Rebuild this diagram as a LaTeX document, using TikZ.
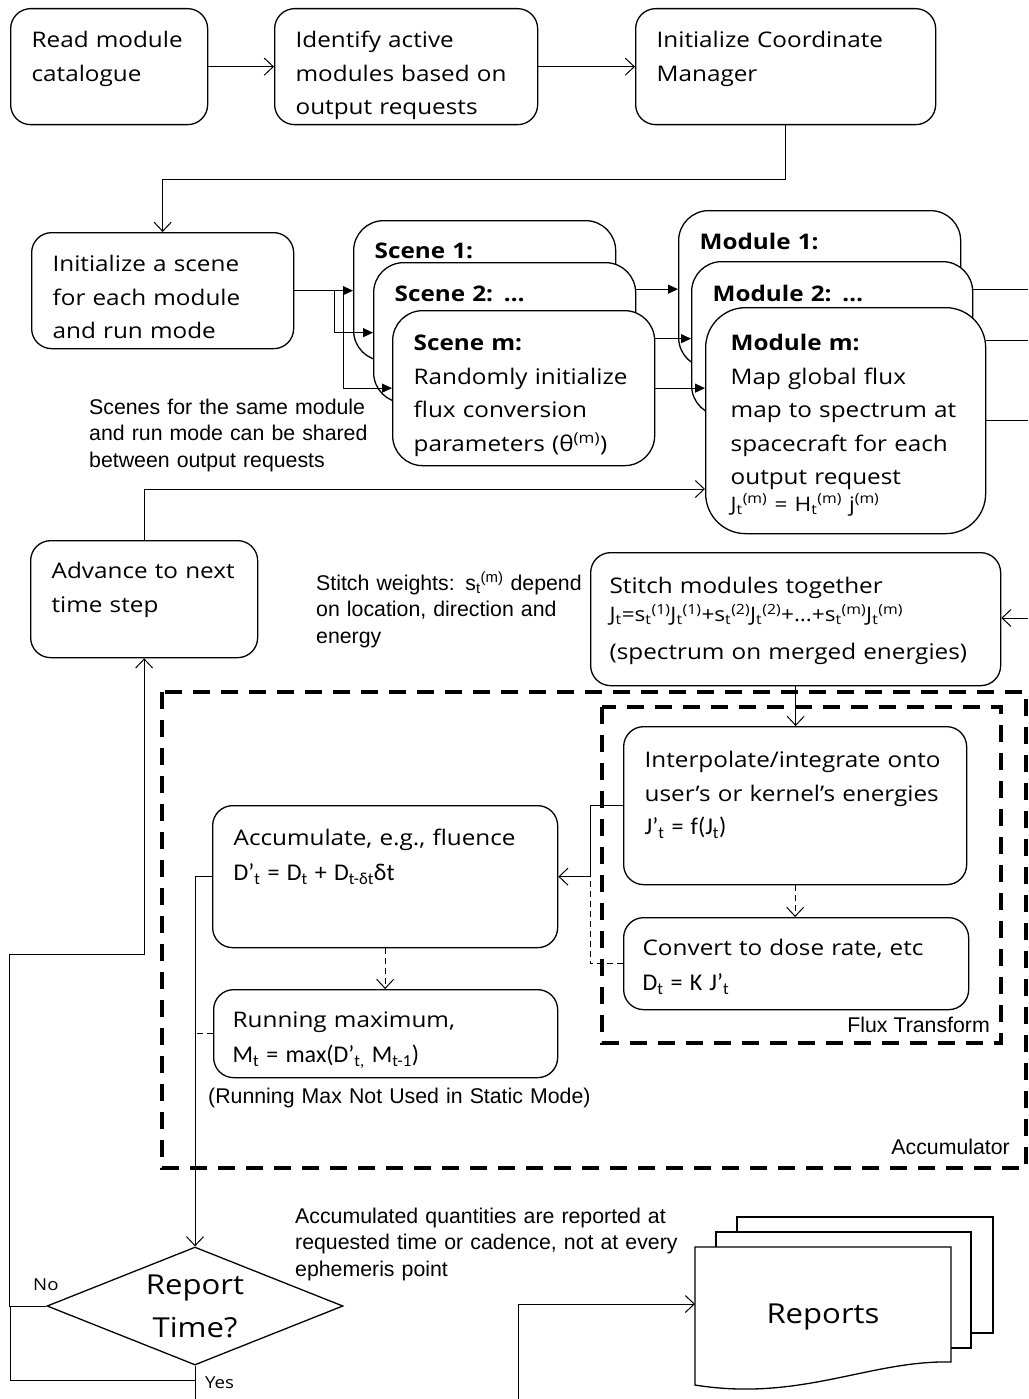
\documentclass[tikz,border=0pt]{standalone}
\usepackage{fontspec}
\setmainfont{Open Sans}[FakeStretch=1.13]
\newfontfamily\arialfont{Liberation Sans}
\newfontfamily\calfont{Carlito}
\usetikzlibrary{arrows.meta,shapes.geometric,positioning}

\newcommand{\boxfont}{\fontsize{21.5}{33.5}\selectfont}
\newcommand{\notefont}{\arialfont\fontsize{21.3}{26.5}\selectfont}
\newcommand{\eqfont}{\calfont\fontsize{24}{33.5}\selectfont}
\newcommand{\subsup}[2]{\textsubscript{#1}\textsuperscript{#2}}

\begin{document}
\begin{tikzpicture}[x=1pt, y=-1pt,
    box/.style={draw, line width=1.3pt, rounded corners=20pt, fill=white, anchor=north west,
        inner xsep=21pt, inner ysep=8pt, align=left, font=\boxfont},
    sz/.style n args={3}{text width=#1pt, text height=#2pt, text depth=#3pt},
    note/.style={anchor=base west, inner sep=0pt, align=left, font=\notefont},
    arr/.style={line width=1pt, -{Straight Barb[length=9pt,width=17pt]}},
    tri/.style={line width=1pt, -{Triangle[length=10pt,width=9pt]}},
    dsh/.style={line width=1pt, dash pattern=on 6pt off 4pt},
    grp/.style={line width=4pt, dash pattern=on 17pt off 11pt}]
    \useasboundingbox (0,0) rectangle (1028,1399);

    % top row
    \node[box, sz={155}{31}{69}] (read) at (10,8) {Read module\\catalogue};
    \node[box, sz={221}{31}{69}] (ident) at (274,8) {Identify active\\modules based on\\output requests};
    \node[box, sz={258}{31}{69}] (coord) at (635,8) {Initialize Coordinate\\Manager};
    \node[box, sz={220}{31}{69}] (init) at (31,232) {Initialize a scene\\for each module\\and run mode};

    % scenes and modules, stacked
    \node[box, rounded corners=30pt, sz={220}{30}{94}] (scene1) at (353,220) {\textbf{Scene 1:}};
    \node[box, rounded corners=30pt, sz={220}{31}{93}] (scene2) at (373,262) {\textbf{Scene 2: …}};
    \node[box, rounded corners=30pt, sz={220}{32}{107}] (scenem) at (392,310)
        {\textbf{Scene m:}\\Randomly initialize\\flux conversion\\parameters (θ\textsuperscript{(m)})};
    \node[box, rounded corners=30pt, sz={240}{31}{110}] (mod1) at (678,210) {\textbf{Module 1:}};
    \node[box, rounded corners=30pt, sz={239}{32}{106}] (mod2) at (691,261) {\textbf{Module 2: …}};
    \node[box, rounded corners=40pt, inner xsep=25pt, sz={230}{35}{175}] (modm) at (705,307)
        {\textbf{Module m:}\\Map global flux\\map to spectrum at\\spacecraft for each\\output request\\[-7pt]
         {\fontsize{20}{22}\selectfont J\subsup{t}{(m)} = H\subsup{t}{(m)} j\textsuperscript{(m)}}};

    \node[box, sz={185}{30}{71}] (adv) at (30,540) {Advance to next\\time step};
    \node[box, inner xsep=19pt, sz={372}{33}{84}] (stitch) at (590,552)
        {Stitch modules together\\[-5.5pt]
         {\fontsize{20}{22}\selectfont J\textsubscript{t}=s\subsup{t}{(1)}J\subsup{t}{(1)}+s\subsup{t}{(2)}J\subsup{t}{(2)}+…+s\subsup{t}{(m)}J\subsup{t}{(m)}}\\[4.5pt]
         (spectrum on merged energies)};

    % flux transform and accumulator
    \node[box, sz={301}{33}{109}] (interp) at (623,726)
        {Interpolate/integrate onto\\user’s or kernel’s energies\\{\eqfont J’\textsubscript{t} = f(J\textsubscript{t})}};
    \node[box, inner xsep=19pt, sz={307}{30}{46}] (conv) at (623,917)
        {Convert to dose rate, etc\\[1.5pt]{\eqfont D\textsubscript{t} = K J’\textsubscript{t}}};
    \node[box, sz={303}{32}{94}] (accum) at (212,805)
        {Accumulate, e.g., fluence\\[1.5pt]{\eqfont D’\textsubscript{t} = D\textsubscript{t} + D\textsubscript{t-δt}δt}};
    \node[box, inner xsep=19pt, sz={306}{30}{42}] (run) at (213,989)
        {Running maximum,\\[1.5pt]{\eqfont M\textsubscript{t} = max(D’\textsubscript{t,} M\textsubscript{t-1})}};

    \draw[grp] (162,692) rectangle (1026,1168);
    \draw[grp] (602,707) rectangle (1001,1043);

    % decision and reports
    \node[draw, diamond, line width=1.3pt, minimum width=296pt, minimum height=118pt, inner sep=0pt] (dec) at (195,1306) {};
    \node[align=center, font=\fontsize{27.5}{43}\selectfont] (dectxt) at (dec.center) {Report\\Time?};

    \draw[line width=1.3pt, fill=white] (737,1217) rectangle (993,1333);
    \draw[line width=1.3pt, fill=white] (716,1232) rectangle (971,1348);
    \draw[line width=1.3pt, fill=white] (695,1247) -- (951,1247) -- (951,1362)
        .. controls (870,1360) and (800,1402) .. (695,1385) -- cycle;
    \node[font=\fontsize{27.5}{36}\selectfont] (rep) at (823,1317) {Reports};

    % notes
    \node[note, text width=300pt] (sharednote) at (89,414) {Scenes for the same module\\and run mode can be shared\\between output requests};
    \node[note, text width=270pt] (stitchnote) at (316,590) {Stitch weights: s\subsup{t}{(m)} depend\\on location, direction and\\energy};
    \node[note, text width=420pt] (runnote) at (208,1103) {(Running Max Not Used in Static Mode)};
    \node[note, text width=420pt] (repnote) at (295,1223) {Accumulated quantities are reported at\\requested time or cadence, not at every\\ephemeris point};
    \node[note, anchor=base east] (acclbl) at (1010,1154) {Accumulator};
    \node[note, anchor=base east] (fluxlbl) at (990,1032) {Flux Transform};
    \node[anchor=base west, inner sep=0pt, font=\fontsize{16.5}{22}\selectfont] (nolbl) at (33,1290) {No};
    \node[anchor=base west, inner sep=0pt, font=\fontsize{16.5}{22}\selectfont] (yeslbl) at (205,1388) {Yes};

    % connectors
    \coordinate (r1) at (1028,289);
    \coordinate (r2) at (1028,340);
    \coordinate (r3) at (1028,420);
    \coordinate (r4) at (1028,618);
    \coordinate (repin) at (695,1304);
    \coordinate (repfrom) at (518,1399);

    \draw[arr] (read) -- (ident);
    \draw[arr] (ident) -- (coord);
    \draw[arr] (coord.south) -- ++(0,54) -| (init.north);
    \draw[tri] (init.east) -- (init.east -| scene1.west);
    \draw[tri] ([xshift=40pt]init.east) |- (scene2.west);
    \draw[tri] ([xshift=49pt]init.east) |- (scenem.west);
    \draw[tri] (scene2.east |- mod1.west) -- (mod1.west);
    \draw[tri] (scenem.east |- mod2.west) -- (mod2.west);
    \draw[tri] (scenem.east) -- (scenem.east -| modm.west);
    \draw[line width=1pt] (mod2.east |- r1) -- (r1);
    \draw[line width=1pt] (modm.east |- r2) -- (r2);
    \draw[line width=1pt] (modm.east |- r3) -- (r3);
    \draw[arr] (r4) -- (stitch.east |- r4);
    \draw[arr] (adv.north) |- (modm.west |- 0,489);

    \draw[arr] (stitch.south) -- (stitch.south |- interp.north);
    \draw[arr, dsh] (interp.south) -- (interp.south |- conv.north);
    \draw[arr] (interp.west) -- ++(-33,0) |- (accum.east);
    \draw[dsh] (conv.west) -- ++(-33,0) -- ++(0,-87);
    \draw[arr, dsh] (accum.south) -- (accum.south |- run.north);
    \draw[arr] (accum.west) -| (dec.north);
    \draw[dsh] (run.west) -- (run.west -| dec.north);

    \draw[arr] (dec.west) -- ++(-37,0) -- ++(0,-352) -| (adv.south);
    \draw[line width=1pt] (dec.south) -- ++(0,35);
    \draw[line width=1pt] (dec.south |- 0,1380) -- ++(-185,0) -- ++(0,-74);
    \draw[arr] (repfrom) |- (repin);
\end{tikzpicture}
\end{document}
